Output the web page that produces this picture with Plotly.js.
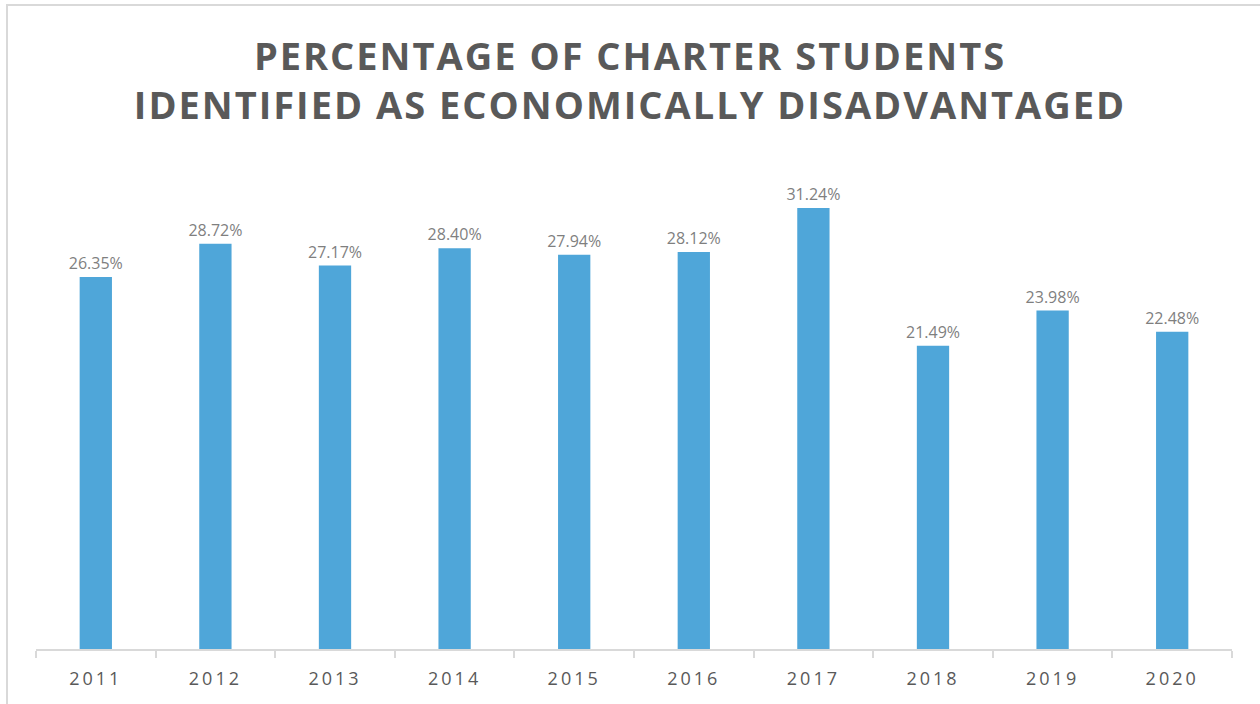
<!DOCTYPE html>
<html><head><meta charset="utf-8">
<script src="https://cdn.plot.ly/plotly-3.0.1.min.js"></script>
<style>
body{margin:0;background:#fff;overflow:hidden;}
#frame{position:absolute;left:6px;top:4px;width:1300px;height:800px;border:2px solid #d9d9d9;pointer-events:none;}
#chart{position:absolute;left:0;top:0;width:1260px;height:704px;}
.gtitle{letter-spacing:2px;}
.xtick text{letter-spacing:3px;}
</style></head>
<body>
<div id="frame"></div>
<div id="chart"></div>
<script>
const years = ['2011','2012','2013','2014','2015','2016','2017','2018','2019','2020'];
const percentages = [26.35, 28.72, 27.17, 28.40, 27.94, 28.12, 31.24, 21.49, 23.98, 22.48];
const titleText = 'PERCENTAGE OF CHARTER STUDENTS<br>IDENTIFIED AS ECONOMICALLY DISADVANTAGED';

Plotly.newPlot('chart', [{
  type: 'bar', x: years, y: percentages,
  marker: {color: '#4fa6d9'},
  texttemplate: '%{y:.2f}%', textposition: 'outside', cliponaxis: false, constraintext: 'none',
  textfont: {family: 'Open Sans, sans-serif', size: 16, color: '#7f7f7f'},
  hoverinfo: 'skip'
}], {
  width: 1260, height: 704,
  margin: {l: 36, r: 28, t: 155, b: 55},
  paper_bgcolor: 'rgba(0,0,0,0)', plot_bgcolor: 'rgba(0,0,0,0)',
  bargap: 0.73,
  showlegend: false,
  title: {text: titleText, x: 0.5, xanchor: 'center', y: 0.901, yanchor: 'middle',
    font: {family: 'Open Sans, sans-serif', size: 38, color: '#595959', weight: 'bold'}},
  xaxis: {type: 'category', showline: true, linecolor: '#d9d9d9', linewidth: 2,
    ticks: 'outside', tickson: 'boundaries', ticklen: 7, tickcolor: '#d9d9d9', tickwidth: 2,
    ticklabelstandoff: 12,
    tickfont: {family: 'Open Sans, sans-serif', size: 18, color: '#595959'}, showgrid: false},
  yaxis: {range: [0, 35], visible: false, showgrid: false, zeroline: false}
}, {displayModeBar: false, staticPlot: true});
</script>
</body></html>
